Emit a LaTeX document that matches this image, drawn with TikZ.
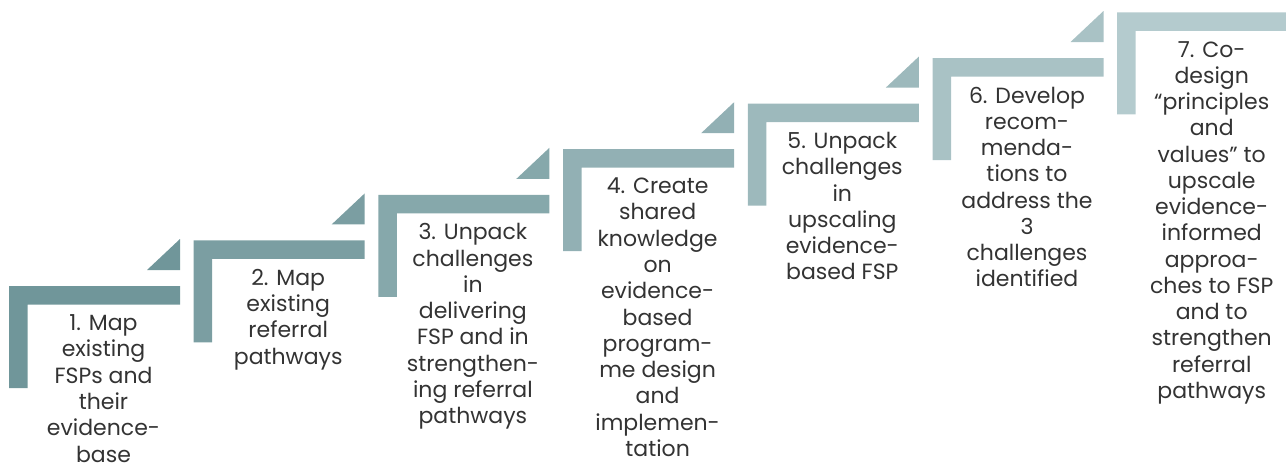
\documentclass[tikz,border=0pt]{standalone}
\usepackage{fontspec}
\setmainfont{Poppins}

\definecolor{stepdark}{RGB}{112,150,154}
\definecolor{steplight}{RGB}{180,203,206}

\tikzset{
  steptext/.style={anchor=north, align=center, inner sep=0pt, text=black!80,
    font=\fontsize{16.5}{19.7}\selectfont}
}

\begin{document}
\begin{tikzpicture}[x=0.75pt,y=-0.75pt]
  \useasboundingbox (0,0) rectangle (1286,469);
  % one L-shaped step per stage, rising to the right
  \foreach \i/\txt in {
      1/{1. Map\\existing\\FSPs and\\their\\evidence-\\base},
      2/{2. Map\\existing\\referral\\pathways},
      3/{3. Unpack\\challenges\\in\\delivering\\FSP and in\\strengthen-\\ing referral\\pathways},
      4/{4. Create\\shared\\knowledge\\on\\evidence-\\based\\program-\\me design\\and\\implemen-\\tation},
      5/{5. Unpack\\challenges\\in\\upscaling\\evidence-\\based FSP},
      6/{6. Develop\\recom-\\menda-\\tions to\\address the\\3\\challenges\\identified},
      7/{7. Co-\\design\\“principles\\and\\values” to\\upscale\\evidence-\\informed\\approa-\\ches to FSP\\and to\\strengthen\\referral\\pathways}}
  {
    \pgfmathsetmacro\x{9+184.7*(\i-1)}
    \pgfmathsetmacro\y{286-45.6*(\i-1)}
    \pgfmathtruncatemacro\p{100*(\i-1)/6}
    \colorlet{stepcol}{steplight!\p!stepdark}
    \fill[stepcol] (\x,\y) -- ++(171,0) -- ++(0,18.5) -- ++(-152.5,0)
      -- ++(0,83.5) -- ++(-18.5,0) -- cycle;
    \fill[stepcol] (\x+171,\y-16) -- ++(0,-31) -- ++(-33,31) -- cycle;
    \node[steptext] (step\i) at (\x+94.5,\y+28.5) {\txt};
  }
\end{tikzpicture}
\end{document}
